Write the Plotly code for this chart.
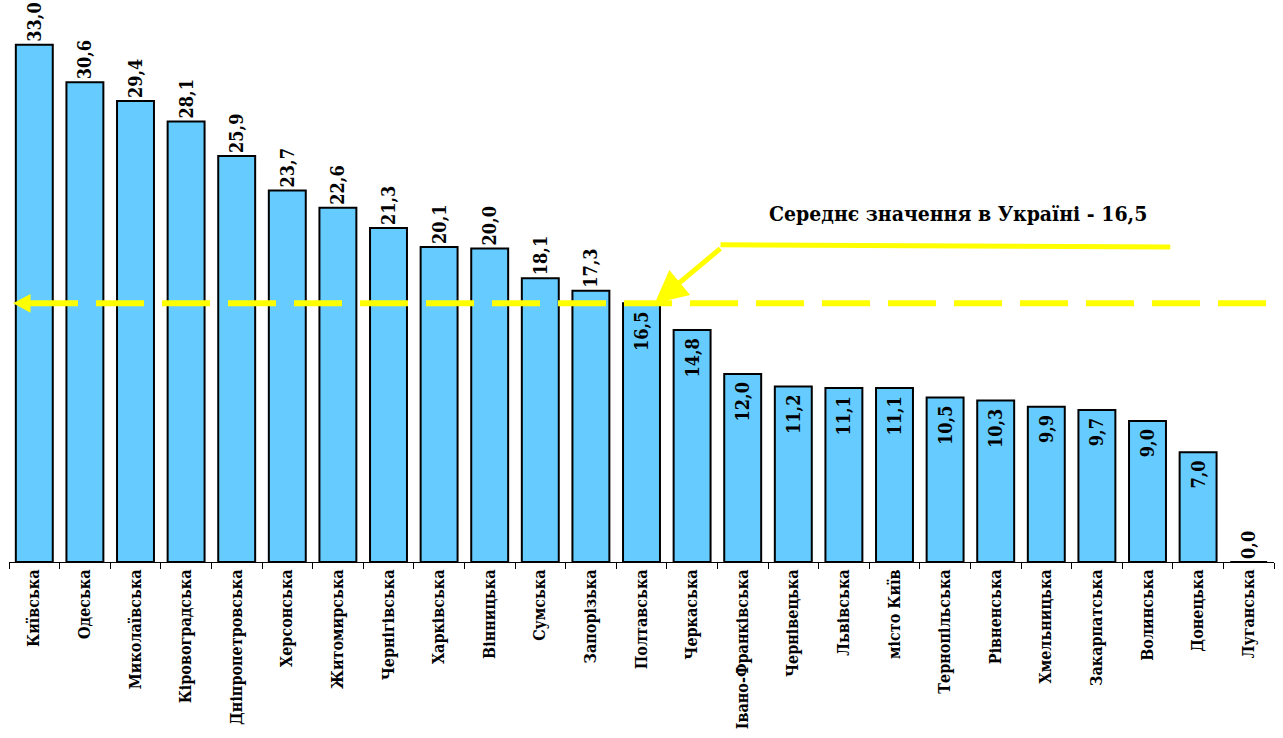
import plotly.graph_objects as go

regions = ["Київська", "Одеська", "Миколаївська", "Кіровоградська", "Дніпропетровська",
           "Херсонська", "Житомирська", "Чернігівська", "Харківська", "Вінницька",
           "Сумська", "Запорізька", "Полтавська", "Черкаська", "Івано-Франківська",
           "Чернівецька", "Львівська", "місто Київ", "Тернопільська", "Рівненська",
           "Хмельницька", "Закарпатська", "Волинська", "Донецька", "Луганська"]
values = [33.0, 30.6, 29.4, 28.1, 25.9, 23.7, 22.6, 21.3, 20.1, 20.0,
          18.1, 17.3, 16.5, 14.8, 12.0, 11.2, 11.1, 11.1, 10.5, 10.3,
          9.9, 9.7, 9.0, 7.0, 0.0]
average = 16.5
avg_label = "Середнє значення в Україні - 16,5"

NB = "\u00a0"
positions = ["inside" if (0 < v <= average) else "outside" for v in values]
labels = ["<b>" + f"{v:.1f}".replace(".", ",") + "</b>" + (NB if p == "inside" else "")
          for v, p in zip(values, positions)]
tick_labels = ["<b>" + r + "</b>" for r in regions]

FONT = "DejaVu Serif Condensed"
YELLOW = "#FFFF00"

fig = go.Figure()
fig.add_trace(go.Bar(
    x=regions, y=values,
    marker=dict(color="#66CCFF", line=dict(color="black", width=2)),
    text=labels, textposition=positions, textangle=-90,
    insidetextanchor="end", constraintext="none", cliponaxis=False,
    textfont=dict(family=FONT, size=18, color="black"),
    insidetextfont=dict(family=FONT, size=18, color="black"),
    outsidetextfont=dict(family=FONT, size=18, color="black"),
))

fig.add_shape(type="line", xref="paper", yref="y", x0=0.0166, x1=0.997,
              y0=average, y1=average, layer="above",
              line=dict(color=YELLOW, width=6, dash="48px,18px"))
fig.add_shape(type="path", xref="paper", yref="y", layer="above",
              path=f"M 0.0032 {average} L 0.0170 {average+0.6} L 0.0170 {average-0.6} Z",
              fillcolor=YELLOW, line=dict(color=YELLOW, width=0))
fig.add_shape(type="line", xref="paper", yref="y", x0=0.5625, x1=0.918,
              y0=20.23, y1=20.1, layer="above",
              line=dict(color=YELLOW, width=5))
fig.add_annotation(x=0.5105, y=average, xref="paper", yref="y",
                   ax=67, ay=-56, showarrow=True, arrowhead=2, arrowsize=1.3,
                   arrowwidth=5, arrowcolor=YELLOW, text="")
fig.add_annotation(x=0.7505, y=22.2, xref="paper", yref="y", showarrow=False,
                   xanchor="center", yanchor="middle",
                   text="<b>" + avg_label + "</b>",
                   font=dict(family=FONT, size=21, color="black"))

fig.update_layout(
    width=1283, height=738,
    margin=dict(l=9, r=9, t=0, b=176),
    paper_bgcolor="white", plot_bgcolor="white",
    bargap=0.27, showlegend=False,
    xaxis=dict(showline=True, linecolor="black", linewidth=1, automargin=False,
               ticks="outside", tickson="boundaries", ticklen=6, tickcolor="black",
               tickangle=-90, showgrid=False,
               tickmode="array", tickvals=regions, ticktext=tick_labels,
               tickfont=dict(family=FONT, size=16, color="black")),
    yaxis=dict(range=[0, 35.85], visible=False, showgrid=False, zeroline=False,
               automargin=False),
)

fig.write_html("out.html", config={"displayModeBar": False},
               post_script="document.body.style.margin='0';")
